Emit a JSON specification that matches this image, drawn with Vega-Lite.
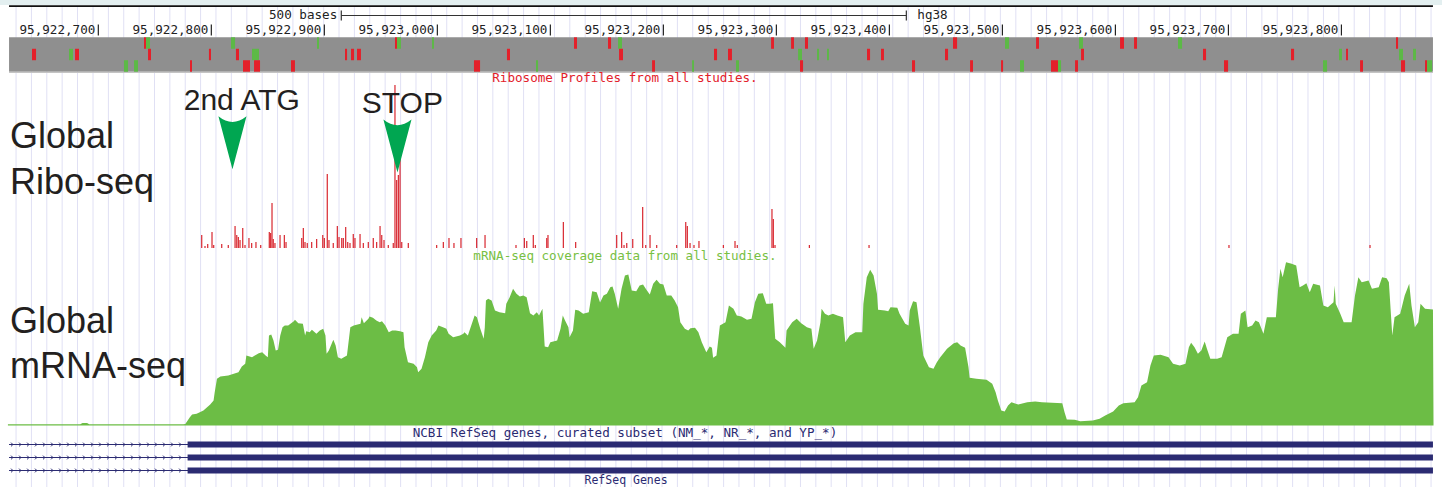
{
"$schema": "https://vega.github.io/schema/vega-lite/v6.json",
"width": 1442, "height": 487, "padding": 0,
"autosize": {"type": "fit", "contains": "padding"},
"background": "white",
"config": {"view": {"stroke": null}, "axis": {"disable": true}},
"resolve": {"scale": {"y": "independent"}},
"data": {"values": [{"track": "annotation"}]},
"datasets": {
"grid": [{"pos":95922627.2},{"pos":95922640.8},{"pos":95922654.4},{"pos":95922668.0},{"pos":95922681.6},{"pos":95922695.3},{"pos":95922708.9},{"pos":95922722.5},{"pos":95922736.1},{"pos":95922749.7},{"pos":95922763.3},{"pos":95922776.9},{"pos":95922790.5},{"pos":95922804.1},{"pos":95922817.7},{"pos":95922831.4},{"pos":95922845.0},{"pos":95922858.6},{"pos":95922872.2},{"pos":95922885.8},{"pos":95922899.4},{"pos":95922913.0},{"pos":95922926.6},{"pos":95922940.2},{"pos":95922953.8},{"pos":95922967.5},{"pos":95922981.1},{"pos":95922994.7},{"pos":95923008.3},{"pos":95923021.9},{"pos":95923035.5},{"pos":95923049.1},{"pos":95923062.7},{"pos":95923076.3},{"pos":95923089.9},{"pos":95923103.6},{"pos":95923117.2},{"pos":95923130.8},{"pos":95923144.4},{"pos":95923158.0},{"pos":95923171.6},{"pos":95923185.2},{"pos":95923198.8},{"pos":95923212.4},{"pos":95923226.0},{"pos":95923239.7},{"pos":95923253.3},{"pos":95923266.9},{"pos":95923280.5},{"pos":95923294.1},{"pos":95923307.7},{"pos":95923321.3},{"pos":95923334.9},{"pos":95923348.5},{"pos":95923362.1},{"pos":95923375.8},{"pos":95923389.4},{"pos":95923403.0},{"pos":95923416.6},{"pos":95923430.2},{"pos":95923443.8},{"pos":95923457.4},{"pos":95923471.0},{"pos":95923484.6},{"pos":95923498.2},{"pos":95923511.9},{"pos":95923525.5},{"pos":95923539.1},{"pos":95923552.7},{"pos":95923566.3},{"pos":95923579.9},{"pos":95923593.5},{"pos":95923607.1},{"pos":95923620.7},{"pos":95923634.3},{"pos":95923648.0},{"pos":95923661.6},{"pos":95923675.2},{"pos":95923688.8},{"pos":95923702.4},{"pos":95923716.0},{"pos":95923729.6},{"pos":95923743.2},{"pos":95923756.8},{"pos":95923770.4},{"pos":95923784.1},{"pos":95923797.7},{"pos":95923811.3},{"pos":95923824.9},{"pos":95923838.5},{"pos":95923852.1},{"pos":95923865.7},{"pos":95923879.3}],
"ruler": [{"pos":95922700},{"pos":95922800},{"pos":95922900},{"pos":95923000},{"pos":95923100},{"pos":95923200},{"pos":95923300},{"pos":95923400},{"pos":95923500},{"pos":95923600},{"pos":95923700},{"pos":95923800}],
"barEnds": [{"pos":95922915},{"pos":95923415}],
"band": [
{"row":1,"s":95922740.4,"e":95922742.2,"lv":"hi"},{"row":1,"s":95922742.2,"e":95922745.7,"lv":"lo"},{"row":1,"s":95922817.4,"e":95922821.0,"lv":"lo"},{"row":1,"s":95922893.5,"e":95922895.3,"lv":"lo"},{"row":1,"s":95922962.5,"e":95922964.3,"lv":"hi"},{"row":1,"s":95922964.3,"e":95922967.8,"lv":"lo"},{"row":1,"s":95922995.3,"e":95922997.0,"lv":"lo"},{"row":1,"s":95923120.9,"e":95923123.6,"lv":"hi"},{"row":1,"s":95923151.0,"e":95923153.7,"lv":"hi"},{"row":1,"s":95923159.9,"e":95923163.4,"lv":"lo"},{"row":1,"s":95923295.3,"e":95923297.9,"lv":"hi"},{"row":1,"s":95923313.0,"e":95923315.6,"lv":"hi"},{"row":1,"s":95923325.3,"e":95923328.0,"lv":"hi"},{"row":1,"s":95923456.3,"e":95923459.9,"lv":"hi"},{"row":1,"s":95923502.3,"e":95923505.9,"lv":"lo"},{"row":1,"s":95923529.8,"e":95923532.4,"lv":"hi"},{"row":1,"s":95923567.8,"e":95923571.3,"lv":"lo"},{"row":1,"s":95923604.1,"e":95923607.6,"lv":"hi"},{"row":1,"s":95923616.5,"e":95923619.1,"lv":"hi"},{"row":1,"s":95923655.4,"e":95923659.0,"lv":"lo"},{"row":1,"s":95923848.3,"e":95923850.1,"lv":"hi"},
{"row":2,"s":95922641.3,"e":95922644.9,"lv":"hi"},{"row":2,"s":95922674.1,"e":95922677.6,"lv":"lo"},{"row":2,"s":95922679.4,"e":95922682.9,"lv":"hi"},{"row":2,"s":95922744.0,"e":95922746.6,"lv":"hi"},{"row":2,"s":95922797.9,"e":95922799.7,"lv":"hi"},{"row":2,"s":95922821.8,"e":95922824.5,"lv":"hi"},{"row":2,"s":95922836.0,"e":95922842.2,"lv":"lo"},{"row":2,"s":95922918.3,"e":95922920.1,"lv":"hi"},{"row":2,"s":95922923.6,"e":95922926.3,"lv":"hi"},{"row":2,"s":95922928.9,"e":95922932.4,"lv":"hi"},{"row":2,"s":95923061.6,"e":95923064.3,"lv":"hi"},{"row":2,"s":95923160.8,"e":95923164.3,"lv":"hi"},{"row":2,"s":95923244.8,"e":95923247.5,"lv":"hi"},{"row":2,"s":95923257.2,"e":95923260.7,"lv":"hi"},{"row":2,"s":95923319.2,"e":95923322.7,"lv":"lo"},{"row":2,"s":95923336.0,"e":95923337.8,"lv":"lo"},{"row":2,"s":95923344.8,"e":95923346.5,"lv":"lo"},{"row":2,"s":95923380.2,"e":95923382.9,"lv":"hi"},{"row":2,"s":95923392.6,"e":95923395.2,"lv":"hi"},{"row":2,"s":95923449.2,"e":95923451.9,"lv":"hi"},{"row":2,"s":95923569.6,"e":95923572.2,"lv":"hi"},{"row":2,"s":95923677.5,"e":95923680.2,"lv":"hi"},{"row":2,"s":95923755.4,"e":95923758.1,"lv":"hi"},{"row":2,"s":95923797.9,"e":95923800.5,"lv":"lo"},{"row":2,"s":95923804.1,"e":95923805.8,"lv":"hi"},{"row":2,"s":95923851.0,"e":95923854.5,"lv":"lo"},{"row":2,"s":95923863.4,"e":95923866.0,"lv":"lo"},
{"row":3,"s":95922722.7,"e":95922726.3,"lv":"lo"},{"row":3,"s":95922731.6,"e":95922735.1,"lv":"lo"},{"row":3,"s":95922781.1,"e":95922782.9,"lv":"hi"},{"row":3,"s":95922828.0,"e":95922834.2,"lv":"hi"},{"row":3,"s":95922837.8,"e":95922843.1,"lv":"hi"},{"row":3,"s":95922870.5,"e":95922874.0,"lv":"hi"},{"row":3,"s":95923032.4,"e":95923037.8,"lv":"hi"},{"row":3,"s":95923087.3,"e":95923089.1,"lv":"lo"},{"row":3,"s":95923190.0,"e":95923192.6,"lv":"hi"},{"row":3,"s":95923225.4,"e":95923227.1,"lv":"lo"},{"row":3,"s":95923264.3,"e":95923266.9,"lv":"lo"},{"row":3,"s":95923320.9,"e":95923323.6,"lv":"hi"},{"row":3,"s":95923420.0,"e":95923422.7,"lv":"hi"},{"row":3,"s":95923471.4,"e":95923474.0,"lv":"hi"},{"row":3,"s":95923498.8,"e":95923500.6,"lv":"hi"},{"row":3,"s":95923515.6,"e":95923519.1,"lv":"lo"},{"row":3,"s":95923543.0,"e":95923549.2,"lv":"hi"},{"row":3,"s":95923549.2,"e":95923551.9,"lv":"lo"},{"row":3,"s":95923564.3,"e":95923566.9,"lv":"hi"},{"row":3,"s":95923696.1,"e":95923699.7,"lv":"hi"},{"row":3,"s":95923783.7,"e":95923787.3,"lv":"lo"},{"row":3,"s":95923816.5,"e":95923819.1,"lv":"hi"},{"row":3,"s":95923852.7,"e":95923856.3,"lv":"hi"},{"row":3,"s":95923874.0,"e":95923875.8,"lv":"hi"},{"row":3,"s":95923875.8,"e":95923880.2,"lv":"lo"}],
"ribo": [{"pos":95922791.5,"reads":13},{"pos":95922794.4,"reads":2},{"pos":95922796.8,"reads":4},{"pos":95922800.6,"reads":16},{"pos":95922802.1,"reads":3},{"pos":95922809.2,"reads":4},{"pos":95922815.0,"reads":3},{"pos":95922821.0,"reads":22},{"pos":95922822.5,"reads":13},{"pos":95922823.9,"reads":11},{"pos":95922825.4,"reads":8},{"pos":95922827.8,"reads":20},{"pos":95922829.8,"reads":3},{"pos":95922833.3,"reads":10},{"pos":95922835.7,"reads":5},{"pos":95922839.5,"reads":6},{"pos":95922843.7,"reads":3},{"pos":95922851.3,"reads":16},{"pos":95922852.5,"reads":15},{"pos":95922853.7,"reads":45},{"pos":95922854.8,"reads":9},{"pos":95922856.3,"reads":5},{"pos":95922860.8,"reads":13},{"pos":95922864.6,"reads":13},{"pos":95922866.1,"reads":6},{"pos":95922880.0,"reads":10},{"pos":95922881.4,"reads":20},{"pos":95922882.9,"reads":6},{"pos":95922884.9,"reads":5},{"pos":95922888.8,"reads":6},{"pos":95922893.2,"reads":9},{"pos":95922898.6,"reads":13},{"pos":95922900.0,"reads":10},{"pos":95922902.6,"reads":74},{"pos":95922904.1,"reads":8},{"pos":95922907.9,"reads":5},{"pos":95922911.5,"reads":22},{"pos":95922913.0,"reads":11},{"pos":95922915.4,"reads":10},{"pos":95922916.8,"reads":10},{"pos":95922918.9,"reads":21},{"pos":95922920.7,"reads":6},{"pos":95922922.7,"reads":5},{"pos":95922925.6,"reads":14},{"pos":95922927.1,"reads":10},{"pos":95922931.6,"reads":14},{"pos":95922934.5,"reads":5},{"pos":95922938.9,"reads":6},{"pos":95922943.3,"reads":10},{"pos":95922946.3,"reads":6},{"pos":95922949.3,"reads":22},{"pos":95922950.8,"reads":13},{"pos":95922952.8,"reads":8},{"pos":95922956.6,"reads":3},{"pos":95922961.0,"reads":5},{"pos":95922962.5,"reads":163},{"pos":95922964.0,"reads":68},{"pos":95922965.5,"reads":73},{"pos":95922967.0,"reads":96},{"pos":95922968.5,"reads":6},{"pos":95922974.3,"reads":5},{"pos":95922999.4,"reads":3},{"pos":95923005.3,"reads":6},{"pos":95923010.3,"reads":10},{"pos":95923014.7,"reads":5},{"pos":95923020.9,"reads":10},{"pos":95923034.8,"reads":10},{"pos":95923042.2,"reads":13},{"pos":95923069.6,"reads":3},{"pos":95923077.0,"reads":10},{"pos":95923079.1,"reads":7},{"pos":95923084.9,"reads":13},{"pos":95923086.7,"reads":3},{"pos":95923096.8,"reads":10},{"pos":95923097.9,"reads":13},{"pos":95923111.5,"reads":26},{"pos":95923122.4,"reads":6},{"pos":95923158.7,"reads":13},{"pos":95923163.1,"reads":16},{"pos":95923165.2,"reads":3},{"pos":95923167.6,"reads":5},{"pos":95923172.9,"reads":9},{"pos":95923181.7,"reads":41},{"pos":95923184.4,"reads":3},{"pos":95923188.2,"reads":13},{"pos":95923194.1,"reads":3},{"pos":95923211.8,"reads":3},{"pos":95923219.8,"reads":26},{"pos":95923221.2,"reads":22},{"pos":95923223.6,"reads":5},{"pos":95923227.1,"reads":3},{"pos":95923231.5,"reads":7},{"pos":95923253.1,"reads":3},{"pos":95923263.4,"reads":7},{"pos":95923265.4,"reads":3},{"pos":95923296.1,"reads":39},{"pos":95923297.3,"reads":29},{"pos":95923298.8,"reads":3},{"pos":95923329.2,"reads":3},{"pos":95923382.0,"reads":3},{"pos":95923700.5,"reads":3},{"pos":95923825.3,"reads":3}],
"mrna": [{"pos":95922620,"cov":1.2},{"pos":95922684,"cov":1.2},{"pos":95922686,"cov":2.5},{"pos":95922690,"cov":2.5},{"pos":95922692,"cov":1.2},{"pos":95922775,"cov":1.2},{"pos":95922777,"cov":1.5},{"pos":95922781,"cov":8.3},{"pos":95922783,"cov":11},{"pos":95922787,"cov":11.7},{"pos":95922793,"cov":15},{"pos":95922799,"cov":21},{"pos":95922802,"cov":25},{"pos":95922803,"cov":33.3},{"pos":95922805,"cov":46.7},{"pos":95922808,"cov":49},{"pos":95922815,"cov":50},{"pos":95922824,"cov":53.3},{"pos":95922827,"cov":59},{"pos":95922830,"cov":61.7},{"pos":95922831,"cov":70},{"pos":95922836,"cov":68.3},{"pos":95922842,"cov":72.3},{"pos":95922845,"cov":73.3},{"pos":95922848,"cov":70},{"pos":95922850,"cov":68.3},{"pos":95922851,"cov":90},{"pos":95922853,"cov":91},{"pos":95922855,"cov":85},{"pos":95922857,"cov":75},{"pos":95922859,"cov":75.7},{"pos":95922861,"cov":90},{"pos":95922863,"cov":98.3},{"pos":95922865,"cov":100},{"pos":95922868,"cov":100},{"pos":95922873,"cov":104.3},{"pos":95922874,"cov":105.7},{"pos":95922877,"cov":102.3},{"pos":95922881,"cov":101.7},{"pos":95922883,"cov":90},{"pos":95922884,"cov":94.3},{"pos":95922887,"cov":93.3},{"pos":95922889,"cov":95.7},{"pos":95922893,"cov":91.7},{"pos":95922896,"cov":95},{"pos":95922899,"cov":96.7},{"pos":95922901,"cov":90},{"pos":95922902,"cov":71.7},{"pos":95922904,"cov":75},{"pos":95922907,"cov":83.3},{"pos":95922908,"cov":85.7},{"pos":95922910,"cov":80},{"pos":95922912,"cov":68.3},{"pos":95922915,"cov":66.7},{"pos":95922920,"cov":70},{"pos":95922923,"cov":98.3},{"pos":95922926,"cov":100},{"pos":95922932,"cov":101.7},{"pos":95922933,"cov":108.3},{"pos":95922935,"cov":102.3},{"pos":95922939,"cov":106.7},{"pos":95922940,"cov":109},{"pos":95922943,"cov":107.7},{"pos":95922946,"cov":105},{"pos":95922949,"cov":103.3},{"pos":95922951,"cov":104.3},{"pos":95922954,"cov":100},{"pos":95922957,"cov":93.3},{"pos":95922960,"cov":95},{"pos":95922963,"cov":95},{"pos":95922967,"cov":94.3},{"pos":95922970,"cov":93.3},{"pos":95922971,"cov":78.3},{"pos":95922974,"cov":63.3},{"pos":95922979,"cov":61.7},{"pos":95922982,"cov":58.3},{"pos":95922983,"cov":53.3},{"pos":95922986,"cov":56.7},{"pos":95922989,"cov":68.3},{"pos":95922992,"cov":83.3},{"pos":95922995,"cov":90},{"pos":95922999,"cov":95},{"pos":95923001,"cov":100},{"pos":95923005,"cov":98.3},{"pos":95923008,"cov":96.7},{"pos":95923010,"cov":91.7},{"pos":95923014,"cov":88.3},{"pos":95923020,"cov":90},{"pos":95923023,"cov":91.7},{"pos":95923024,"cov":93.3},{"pos":95923027,"cov":90},{"pos":95923030,"cov":100},{"pos":95923033,"cov":110},{"pos":95923035,"cov":108.3},{"pos":95923038,"cov":96.7},{"pos":95923041,"cov":86.7},{"pos":95923042,"cov":98.3},{"pos":95923043,"cov":125},{"pos":95923045,"cov":126.7},{"pos":95923048,"cov":125},{"pos":95923051,"cov":115},{"pos":95923055,"cov":113.3},{"pos":95923060,"cov":112.3},{"pos":95923061,"cov":121.7},{"pos":95923064,"cov":128.3},{"pos":95923067,"cov":136.7},{"pos":95923070,"cov":131.7},{"pos":95923073,"cov":129},{"pos":95923076,"cov":130},{"pos":95923079,"cov":128.3},{"pos":95923082,"cov":112.3},{"pos":95923085,"cov":110},{"pos":95923088,"cov":113.3},{"pos":95923090,"cov":110},{"pos":95923093,"cov":116.7},{"pos":95923094,"cov":98.3},{"pos":95923095,"cov":79},{"pos":95923098,"cov":78.3},{"pos":95923100,"cov":83.3},{"pos":95923106,"cov":85},{"pos":95923109,"cov":96.7},{"pos":95923111,"cov":110},{"pos":95923113,"cov":105},{"pos":95923116,"cov":98.3},{"pos":95923117,"cov":88.3},{"pos":95923120,"cov":95},{"pos":95923122,"cov":115.7},{"pos":95923125,"cov":115},{"pos":95923129,"cov":111.7},{"pos":95923134,"cov":113.3},{"pos":95923137,"cov":134.3},{"pos":95923141,"cov":133.3},{"pos":95923144,"cov":123},{"pos":95923147,"cov":130},{"pos":95923150,"cov":131.7},{"pos":95923153,"cov":138.3},{"pos":95923155,"cov":139},{"pos":95923157,"cov":131.7},{"pos":95923160,"cov":116.7},{"pos":95923163,"cov":136.7},{"pos":95923166,"cov":150},{"pos":95923169,"cov":151},{"pos":95923172,"cov":135},{"pos":95923176,"cov":134.3},{"pos":95923179,"cov":140},{"pos":95923182,"cov":141},{"pos":95923185,"cov":135.7},{"pos":95923188,"cov":131},{"pos":95923191,"cov":141.7},{"pos":95923194,"cov":145.7},{"pos":95923197,"cov":141.7},{"pos":95923200,"cov":141},{"pos":95923203,"cov":130},{"pos":95923207,"cov":130},{"pos":95923210,"cov":125},{"pos":95923213,"cov":118.3},{"pos":95923215,"cov":103.3},{"pos":95923219,"cov":96.7},{"pos":95923222,"cov":95},{"pos":95923224,"cov":97.3},{"pos":95923228,"cov":97.7},{"pos":95923231,"cov":93.3},{"pos":95923234,"cov":83.3},{"pos":95923238,"cov":73.3},{"pos":95923241,"cov":79},{"pos":95923243,"cov":77.7},{"pos":95923244,"cov":67.7},{"pos":95923247,"cov":70},{"pos":95923250,"cov":100},{"pos":95923255,"cov":103.3},{"pos":95923258,"cov":120},{"pos":95923262,"cov":116.7},{"pos":95923265,"cov":110},{"pos":95923269,"cov":109},{"pos":95923274,"cov":105.7},{"pos":95923278,"cov":106.7},{"pos":95923281,"cov":123.3},{"pos":95923284,"cov":131.7},{"pos":95923288,"cov":132.3},{"pos":95923291,"cov":121.7},{"pos":95923294,"cov":121.7},{"pos":95923297,"cov":122.3},{"pos":95923299,"cov":86.7},{"pos":95923303,"cov":83.3},{"pos":95923308,"cov":77.7},{"pos":95923309,"cov":95},{"pos":95923314,"cov":103.3},{"pos":95923318,"cov":106.7},{"pos":95923322,"cov":102.3},{"pos":95923327,"cov":98.3},{"pos":95923331,"cov":96.7},{"pos":95923333,"cov":76.7},{"pos":95923336,"cov":85},{"pos":95923339,"cov":103.3},{"pos":95923340,"cov":116.7},{"pos":95923343,"cov":111.7},{"pos":95923346,"cov":110},{"pos":95923350,"cov":111.7},{"pos":95923354,"cov":110},{"pos":95923359,"cov":108.3},{"pos":95923361,"cov":83.3},{"pos":95923365,"cov":90},{"pos":95923370,"cov":93.3},{"pos":95923376,"cov":93.3},{"pos":95923377,"cov":121.7},{"pos":95923380,"cov":148.3},{"pos":95923383,"cov":155.7},{"pos":95923386,"cov":150},{"pos":95923389,"cov":131.7},{"pos":95923390,"cov":115.7},{"pos":95923396,"cov":115},{"pos":95923399,"cov":114.3},{"pos":95923401,"cov":118.3},{"pos":95923407,"cov":117.7},{"pos":95923409,"cov":111.7},{"pos":95923414,"cov":101.7},{"pos":95923417,"cov":100},{"pos":95923418,"cov":115},{"pos":95923421,"cov":124.3},{"pos":95923424,"cov":123.3},{"pos":95923427,"cov":98.3},{"pos":95923430,"cov":70},{"pos":95923435,"cov":58.3},{"pos":95923439,"cov":56.7},{"pos":95923442,"cov":63.3},{"pos":95923445,"cov":68.3},{"pos":95923451,"cov":76.7},{"pos":95923457,"cov":82.3},{"pos":95923460,"cov":83.3},{"pos":95923463,"cov":80},{"pos":95923467,"cov":77.7},{"pos":95923470,"cov":58.3},{"pos":95923471,"cov":47.7},{"pos":95923477,"cov":46.7},{"pos":95923486,"cov":45.7},{"pos":95923491,"cov":41.7},{"pos":95923494,"cov":33.3},{"pos":95923496,"cov":25},{"pos":95923499,"cov":15},{"pos":95923502,"cov":14},{"pos":95923505,"cov":20},{"pos":95923508,"cov":23.3},{"pos":95923514,"cov":21},{"pos":95923522,"cov":23.3},{"pos":95923529,"cov":24},{"pos":95923535,"cov":23.3},{"pos":95923553,"cov":22.3},{"pos":95923555,"cov":13.3},{"pos":95923557,"cov":6},{"pos":95923564,"cov":5.7},{"pos":95923569,"cov":4.3},{"pos":95923580,"cov":5},{"pos":95923586,"cov":6.7},{"pos":95923591,"cov":10},{"pos":95923598,"cov":14},{"pos":95923603,"cov":20},{"pos":95923607,"cov":22.3},{"pos":95923617,"cov":23.3},{"pos":95923620,"cov":28.3},{"pos":95923623,"cov":40},{"pos":95923628,"cov":43.3},{"pos":95923631,"cov":60},{"pos":95923634,"cov":70},{"pos":95923640,"cov":70.7},{"pos":95923647,"cov":68.3},{"pos":95923651,"cov":61.7},{"pos":95923657,"cov":60},{"pos":95923662,"cov":61.7},{"pos":95923665,"cov":78.3},{"pos":95923667,"cov":82.7},{"pos":95923670,"cov":78.3},{"pos":95923673,"cov":71.7},{"pos":95923676,"cov":75},{"pos":95923679,"cov":84},{"pos":95923681,"cov":76.7},{"pos":95923684,"cov":66.7},{"pos":95923690,"cov":66.7},{"pos":95923694,"cov":68.3},{"pos":95923699,"cov":88.3},{"pos":95923704,"cov":91.7},{"pos":95923709,"cov":91.7},{"pos":95923711,"cov":111.7},{"pos":95923715,"cov":115},{"pos":95923717,"cov":98.3},{"pos":95923721,"cov":100},{"pos":95923724,"cov":105},{"pos":95923727,"cov":103.3},{"pos":95923731,"cov":91.7},{"pos":95923734,"cov":108.3},{"pos":95923738,"cov":108.3},{"pos":95923742,"cov":108.3},{"pos":95923744,"cov":136.7},{"pos":95923746,"cov":156.7},{"pos":95923748,"cov":148.3},{"pos":95923751,"cov":163.3},{"pos":95923756,"cov":161.7},{"pos":95923760,"cov":160},{"pos":95923763,"cov":138.3},{"pos":95923766,"cov":140},{"pos":95923769,"cov":142.3},{"pos":95923772,"cov":133.3},{"pos":95923775,"cov":141.7},{"pos":95923781,"cov":140},{"pos":95923784,"cov":120},{"pos":95923788,"cov":118.3},{"pos":95923793,"cov":123.3},{"pos":95923794,"cov":140},{"pos":95923795,"cov":121.7},{"pos":95923799,"cov":111.7},{"pos":95923802,"cov":103.3},{"pos":95923809,"cov":103.3},{"pos":95923812,"cov":130},{"pos":95923815,"cov":148.3},{"pos":95923818,"cov":143.3},{"pos":95923824,"cov":145},{"pos":95923827,"cov":136.7},{"pos":95923833,"cov":138.3},{"pos":95923836,"cov":148.3},{"pos":95923840,"cov":147.3},{"pos":95923842,"cov":143.3},{"pos":95923845,"cov":90},{"pos":95923847,"cov":108.3},{"pos":95923852,"cov":111.7},{"pos":95923856,"cov":130},{"pos":95923860,"cov":141.7},{"pos":95923862,"cov":120},{"pos":95923865,"cov":98.3},{"pos":95923868,"cov":103.3},{"pos":95923870,"cov":121.7},{"pos":95923874,"cov":116.7},{"pos":95923881,"cov":116},{"pos":95923881.5,"cov":0}],
"chev": [{"pos":95922623.6},{"pos":95922630.7},{"pos":95922637.8},{"pos":95922644.8},{"pos":95922651.9},{"pos":95922659.0},{"pos":95922666.1},{"pos":95922673.2},{"pos":95922680.2},{"pos":95922687.3},{"pos":95922694.4},{"pos":95922701.5},{"pos":95922708.6},{"pos":95922715.6},{"pos":95922722.7},{"pos":95922729.8},{"pos":95922736.9},{"pos":95922744.0},{"pos":95922751.0},{"pos":95922758.1},{"pos":95922765.2},{"pos":95922772.3}]
},
"layer": [
{"mark": {"type": "rect", "color": "#e3eff0"},
 "encoding": {"x": {"datum": 95922613, "type": "quantitative", "scale": {"domain": [95922613, 95923889], "nice": false, "zero": false}}, "x2": {"datum": 95923889},
  "y": {"datum": 0, "type": "quantitative", "scale": {"domain": [0, 487], "range": [0, 487], "nice": false, "zero": false}}, "y2": {"datum": 5}}},
{"data": {"name": "grid"}, "mark": {"type": "rule", "color": "#e0e0f4", "strokeWidth": 1},
 "encoding": {"x": {"field": "pos", "type": "quantitative", "scale": {"domain": [95922613, 95923889], "nice": false, "zero": false}},
  "y": {"datum": 7, "type": "quantitative", "scale": {"domain": [0, 487], "range": [0, 487], "nice": false, "zero": false}}, "y2": {"datum": 487}}},
{"mark": {"type": "rect", "color": "#111111"},
 "encoding": {"x": {"datum": 95922621, "type": "quantitative", "scale": {"domain": [95922613, 95923889], "nice": false, "zero": false}}, "x2": {"datum": 95923881},
  "y": {"datum": 5.2, "type": "quantitative", "scale": {"domain": [0, 487], "range": [0, 487], "nice": false, "zero": false}}, "y2": {"datum": 7}}},
{"data": {"name": "ruler"}, "mark": {"type": "text", "font": "DejaVu Sans Mono", "fontSize": 12.6, "align": "right", "baseline": "middle", "dx": -3, "color": "#222222"},
 "encoding": {"x": {"field": "pos", "type": "quantitative", "scale": {"domain": [95922613, 95923889], "nice": false, "zero": false}},
  "y": {"datum": 30, "type": "quantitative", "scale": {"domain": [0, 487], "range": [0, 487], "nice": false, "zero": false}},
  "text": {"field": "pos", "type": "quantitative", "format": ","}}},
{"data": {"name": "ruler"}, "mark": {"type": "rule", "color": "#222222", "strokeWidth": 1.2},
 "encoding": {"x": {"field": "pos", "type": "quantitative", "scale": {"domain": [95922613, 95923889], "nice": false, "zero": false}},
  "y": {"datum": 24.5, "type": "quantitative", "scale": {"domain": [0, 487], "range": [0, 487], "nice": false, "zero": false}}, "y2": {"datum": 35.5}}},
{"mark": {"type": "rule", "color": "#333333", "strokeWidth": 1},
 "encoding": {"x": {"datum": 95922915, "type": "quantitative", "scale": {"domain": [95922613, 95923889], "nice": false, "zero": false}}, "x2": {"datum": 95923415},
  "y": {"datum": 15.5, "type": "quantitative", "scale": {"domain": [0, 487], "range": [0, 487], "nice": false, "zero": false}}}},
{"data": {"name": "barEnds"}, "mark": {"type": "rule", "color": "#333333", "strokeWidth": 1.2},
 "encoding": {"x": {"field": "pos", "type": "quantitative", "scale": {"domain": [95922613, 95923889], "nice": false, "zero": false}},
  "y": {"datum": 10.5, "type": "quantitative", "scale": {"domain": [0, 487], "range": [0, 487], "nice": false, "zero": false}}, "y2": {"datum": 20.5}}},
{"mark": {"type": "text", "text": "500 bases", "font": "DejaVu Sans Mono", "fontSize": 12.6, "align": "right", "baseline": "middle", "dx": -4, "color": "#222222"},
 "encoding": {"x": {"datum": 95922915, "type": "quantitative", "scale": {"domain": [95922613, 95923889], "nice": false, "zero": false}},
  "y": {"datum": 15.3, "type": "quantitative", "scale": {"domain": [0, 487], "range": [0, 487], "nice": false, "zero": false}}}},
{"mark": {"type": "text", "text": "hg38", "font": "DejaVu Sans Mono", "fontSize": 12.6, "align": "left", "baseline": "middle", "dx": 11, "color": "#222222"},
 "encoding": {"x": {"datum": 95923415, "type": "quantitative", "scale": {"domain": [95922613, 95923889], "nice": false, "zero": false}},
  "y": {"datum": 15.3, "type": "quantitative", "scale": {"domain": [0, 487], "range": [0, 487], "nice": false, "zero": false}}}},
{"mark": {"type": "rect", "color": "#8f8f8f"},
 "encoding": {"x": {"datum": 95922621, "type": "quantitative", "scale": {"domain": [95922613, 95923889], "nice": false, "zero": false}}, "x2": {"datum": 95923881},
  "y": {"datum": 37.3, "type": "quantitative", "scale": {"domain": [0, 487], "range": [0, 487], "nice": false, "zero": false}}, "y2": {"datum": 71.7}}},
{"mark": {"type": "rect", "color": "#c4c4c4"},
 "encoding": {"x": {"datum": 95922621, "type": "quantitative", "scale": {"domain": [95922613, 95923889], "nice": false, "zero": false}}, "x2": {"datum": 95923881},
  "y": {"datum": 71.7, "type": "quantitative", "scale": {"domain": [0, 487], "range": [0, 487], "nice": false, "zero": false}}, "y2": {"datum": 73}}},
{"data": {"name": "band"}, "mark": {"type": "rect"},
 "encoding": {"x": {"field": "s", "type": "quantitative", "scale": {"domain": [95922613, 95923889], "nice": false, "zero": false}}, "x2": {"field": "e"},
  "y": {"field": "row", "type": "ordinal", "scale": {"type": "band", "domain": [1, 2, 3], "range": [37.3, 71.7], "paddingInner": 0, "paddingOuter": 0}},
  "color": {"field": "lv", "type": "nominal", "scale": {"domain": ["hi", "lo"], "range": ["#e4202a", "#5cb946"]}, "legend": null}}},
{"mark": {"type": "text", "text": "Ribosome Profiles from all studies.", "font": "DejaVu Sans Mono", "fontSize": 12.6, "align": "center", "baseline": "middle", "color": "#e3202a"},
 "encoding": {"x": {"datum": 95923166, "type": "quantitative", "scale": {"domain": [95922613, 95923889], "nice": false, "zero": false}},
  "y": {"datum": 78, "type": "quantitative", "scale": {"domain": [0, 487], "range": [0, 487], "nice": false, "zero": false}}}},
{"data": {"name": "ribo"}, "mark": {"type": "rule", "color": "#d8262f", "strokeWidth": 1.2},
 "encoding": {"x": {"field": "pos", "type": "quantitative", "scale": {"domain": [95922613, 95923889], "nice": false, "zero": false}},
  "y": {"field": "reads", "type": "quantitative", "scale": {"domain": [0, 163], "range": [248, 85], "nice": false, "zero": false}}, "y2": {"datum": 0}}},
{"mark": {"type": "text", "text": "mRNA-seq coverage data from all studies.", "font": "DejaVu Sans Mono", "fontSize": 12.6, "align": "center", "baseline": "middle", "color": "#78c043"},
 "encoding": {"x": {"datum": 95923166, "type": "quantitative", "scale": {"domain": [95922613, 95923889], "nice": false, "zero": false}},
  "y": {"datum": 255.5, "type": "quantitative", "scale": {"domain": [0, 487], "range": [0, 487], "nice": false, "zero": false}}}},
{"data": {"name": "mrna"}, "mark": {"type": "area", "color": "#6cbd45", "interpolate": "linear"},
 "encoding": {"x": {"field": "pos", "type": "quantitative", "scale": {"domain": [95922613, 95923889], "nice": false, "zero": false}},
  "y": {"field": "cov", "type": "quantitative", "scale": {"domain": [0, 160], "range": [425.5, 265.5], "nice": false, "zero": false}}, "y2": {"datum": 0}}},
{"mark": {"type": "text", "text": "NCBI RefSeq genes, curated subset (NM_*, NR_*, and YP_*)", "font": "DejaVu Sans Mono", "fontSize": 12.6, "align": "center", "baseline": "middle", "color": "#2b2b72"},
 "encoding": {"x": {"datum": 95923166, "type": "quantitative", "scale": {"domain": [95922613, 95923889], "nice": false, "zero": false}},
  "y": {"datum": 433, "type": "quantitative", "scale": {"domain": [0, 487], "range": [0, 487], "nice": false, "zero": false}}}},
{"mark": {"type": "rule", "color": "#2b2b72", "strokeWidth": 1},
 "encoding": {"x": {"datum": 95922621, "type": "quantitative", "scale": {"domain": [95922613, 95923889], "nice": false, "zero": false}}, "x2": {"datum": 95922780},
  "y": {"datum": 444.5, "type": "quantitative", "scale": {"domain": [0, 487], "range": [0, 487], "nice": false, "zero": false}}}},
{"mark": {"type": "rule", "color": "#2b2b72", "strokeWidth": 1},
 "encoding": {"x": {"datum": 95922621, "type": "quantitative", "scale": {"domain": [95922613, 95923889], "nice": false, "zero": false}}, "x2": {"datum": 95922780},
  "y": {"datum": 457.5, "type": "quantitative", "scale": {"domain": [0, 487], "range": [0, 487], "nice": false, "zero": false}}}},
{"mark": {"type": "rule", "color": "#2b2b72", "strokeWidth": 1},
 "encoding": {"x": {"datum": 95922621, "type": "quantitative", "scale": {"domain": [95922613, 95923889], "nice": false, "zero": false}}, "x2": {"datum": 95922780},
  "y": {"datum": 470.5, "type": "quantitative", "scale": {"domain": [0, 487], "range": [0, 487], "nice": false, "zero": false}}}},
{"data": {"name": "chev"}, "mark": {"type": "point", "shape": "M-0.5,-1L0.5,0L-0.5,1", "filled": false, "color": "#2b2b72", "strokeWidth": 1, "size": 14, "opacity": 1},
 "encoding": {"x": {"field": "pos", "type": "quantitative", "scale": {"domain": [95922613, 95923889], "nice": false, "zero": false}},
  "y": {"datum": 444.5, "type": "quantitative", "scale": {"domain": [0, 487], "range": [0, 487], "nice": false, "zero": false}}}},
{"data": {"name": "chev"}, "mark": {"type": "point", "shape": "M-0.5,-1L0.5,0L-0.5,1", "filled": false, "color": "#2b2b72", "strokeWidth": 1, "size": 14, "opacity": 1},
 "encoding": {"x": {"field": "pos", "type": "quantitative", "scale": {"domain": [95922613, 95923889], "nice": false, "zero": false}},
  "y": {"datum": 457.5, "type": "quantitative", "scale": {"domain": [0, 487], "range": [0, 487], "nice": false, "zero": false}}}},
{"data": {"name": "chev"}, "mark": {"type": "point", "shape": "M-0.5,-1L0.5,0L-0.5,1", "filled": false, "color": "#2b2b72", "strokeWidth": 1, "size": 14, "opacity": 1},
 "encoding": {"x": {"field": "pos", "type": "quantitative", "scale": {"domain": [95922613, 95923889], "nice": false, "zero": false}},
  "y": {"datum": 470.5, "type": "quantitative", "scale": {"domain": [0, 487], "range": [0, 487], "nice": false, "zero": false}}}},
{"mark": {"type": "rect", "color": "#2b2b72"},
 "encoding": {"x": {"datum": 95922779, "type": "quantitative", "scale": {"domain": [95922613, 95923889], "nice": false, "zero": false}}, "x2": {"datum": 95923881},
  "y": {"datum": 441.5, "type": "quantitative", "scale": {"domain": [0, 487], "range": [0, 487], "nice": false, "zero": false}}, "y2": {"datum": 447.5}}},
{"mark": {"type": "rect", "color": "#2b2b72"},
 "encoding": {"x": {"datum": 95922779, "type": "quantitative", "scale": {"domain": [95922613, 95923889], "nice": false, "zero": false}}, "x2": {"datum": 95923881},
  "y": {"datum": 454.5, "type": "quantitative", "scale": {"domain": [0, 487], "range": [0, 487], "nice": false, "zero": false}}, "y2": {"datum": 460.5}}},
{"mark": {"type": "rect", "color": "#2b2b72"},
 "encoding": {"x": {"datum": 95922779, "type": "quantitative", "scale": {"domain": [95922613, 95923889], "nice": false, "zero": false}}, "x2": {"datum": 95923881},
  "y": {"datum": 467.5, "type": "quantitative", "scale": {"domain": [0, 487], "range": [0, 487], "nice": false, "zero": false}}, "y2": {"datum": 473.5}}},
{"mark": {"type": "text", "text": "RefSeq Genes", "font": "DejaVu Sans Mono", "fontSize": 11.5, "align": "center", "baseline": "top", "color": "#2b2b72"},
 "encoding": {"x": {"datum": 95923167, "type": "quantitative", "scale": {"domain": [95922613, 95923889], "nice": false, "zero": false}},
  "y": {"datum": 475, "type": "quantitative", "scale": {"domain": [0, 487], "range": [0, 487], "nice": false, "zero": false}}}},
{"mark": {"type": "text", "text": "Global", "font": "Liberation Sans", "fontSize": 36, "align": "left", "baseline": "alphabetic", "color": "#231f20"},
 "encoding": {"x": {"datum": 95922621.8, "type": "quantitative", "scale": {"domain": [95922613, 95923889], "nice": false, "zero": false}},
  "y": {"datum": 148, "type": "quantitative", "scale": {"domain": [0, 487], "range": [0, 487], "nice": false, "zero": false}}}},
{"mark": {"type": "text", "text": "Ribo-seq", "font": "Liberation Sans", "fontSize": 36, "align": "left", "baseline": "alphabetic", "color": "#231f20"},
 "encoding": {"x": {"datum": 95922621.8, "type": "quantitative", "scale": {"domain": [95922613, 95923889], "nice": false, "zero": false}},
  "y": {"datum": 194, "type": "quantitative", "scale": {"domain": [0, 487], "range": [0, 487], "nice": false, "zero": false}}}},
{"mark": {"type": "text", "text": "Global", "font": "Liberation Sans", "fontSize": 36, "align": "left", "baseline": "alphabetic", "color": "#231f20"},
 "encoding": {"x": {"datum": 95922621.8, "type": "quantitative", "scale": {"domain": [95922613, 95923889], "nice": false, "zero": false}},
  "y": {"datum": 333, "type": "quantitative", "scale": {"domain": [0, 487], "range": [0, 487], "nice": false, "zero": false}}}},
{"mark": {"type": "text", "text": "mRNA-seq", "font": "Liberation Sans", "fontSize": 36, "align": "left", "baseline": "alphabetic", "color": "#231f20"},
 "encoding": {"x": {"datum": 95922621.8, "type": "quantitative", "scale": {"domain": [95922613, 95923889], "nice": false, "zero": false}},
  "y": {"datum": 378, "type": "quantitative", "scale": {"domain": [0, 487], "range": [0, 487], "nice": false, "zero": false}}}},
{"mark": {"type": "text", "text": "2nd ATG", "font": "Liberation Sans", "fontSize": 30, "align": "center", "baseline": "alphabetic", "color": "#231f20"},
 "encoding": {"x": {"datum": 95922827, "type": "quantitative", "scale": {"domain": [95922613, 95923889], "nice": false, "zero": false}},
  "y": {"datum": 110, "type": "quantitative", "scale": {"domain": [0, 487], "range": [0, 487], "nice": false, "zero": false}}}},
{"mark": {"type": "text", "text": "STOP", "font": "Liberation Sans", "fontSize": 30, "align": "center", "baseline": "alphabetic", "color": "#231f20"},
 "encoding": {"x": {"datum": 95922969, "type": "quantitative", "scale": {"domain": [95922613, 95923889], "nice": false, "zero": false}},
  "y": {"datum": 113, "type": "quantitative", "scale": {"domain": [0, 487], "range": [0, 487], "nice": false, "zero": false}}}},
{"mark": {"type": "point", "shape": "M-0.53,-1Q0,-0.57,0.53,-1L0,1Z", "filled": true, "color": "#00a651", "size": 2809, "opacity": 1, "strokeWidth": 0},
 "encoding": {"x": {"datum": 95922818.7, "type": "quantitative", "scale": {"domain": [95922613, 95923889], "nice": false, "zero": false}},
  "y": {"datum": 142.7, "type": "quantitative", "scale": {"domain": [0, 487], "range": [0, 487], "nice": false, "zero": false}}}},
{"mark": {"type": "point", "shape": "M-0.53,-1Q0,-0.57,0.53,-1L0,1Z", "filled": true, "color": "#00a651", "size": 2809, "opacity": 1, "strokeWidth": 0},
 "encoding": {"x": {"datum": 95922964.7, "type": "quantitative", "scale": {"domain": [95922613, 95923889], "nice": false, "zero": false}},
  "y": {"datum": 146, "type": "quantitative", "scale": {"domain": [0, 487], "range": [0, 487], "nice": false, "zero": false}}}}
]
}
